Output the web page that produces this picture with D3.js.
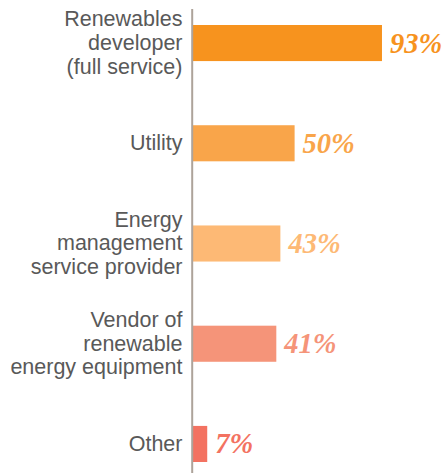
<!DOCTYPE html>
<html>
<head>
<meta charset="utf-8">
<script src="https://cdn.jsdelivr.net/npm/d3@7"></script>
<style>
  html, body { margin: 0; padding: 0; background: #fff; }
  svg { display: block; }
</style>
</head>
<body>
<svg id="chart" width="445" height="473"></svg>
<script>
const categories = [
  ["Renewables", "developer", "(full service)"],
  ["Utility"],
  ["Energy", "management", "service provider"],
  ["Vendor of", "renewable", "energy equipment"],
  ["Other"]
];
const values = [93, 50, 43, 41, 7];
const colors = ["#F7931E", "#F9A54A", "#FDB975", "#F59479", "#F37261"];

const svg = d3.select("#chart");
const keys = categories.map((c, i) => i);

const x = d3.scaleLinear().domain([0, 100]).range([193, 396.2]);
const y = d3.scaleBand().domain(keys).range([25, 462]).paddingInner(0.64).paddingOuter(0);

// bars
svg.selectAll("rect.bar").data(values).join("rect")
  .attr("class", "bar")
  .attr("x", x(0))
  .attr("y", (d, i) => y(i))
  .attr("width", d => x(d) - x(0))
  .attr("height", y.bandwidth())
  .attr("fill", (d, i) => colors[i]);

// axis line
svg.append("line")
  .attr("x1", 192.2).attr("x2", 192.2)
  .attr("y1", 9).attr("y2", 473)
  .attr("stroke", "#ada39a").attr("stroke-width", 2);

// category labels
const lineH = 23.8;
const lab = svg.selectAll("text.cat").data(categories).join("text")
  .attr("class", "cat")
  .attr("text-anchor", "end")
  .attr("font-family", "'Liberation Sans', Arial, sans-serif")
  .attr("font-size", 21.5)
  .attr("fill", "#595959");
lab.each(function(lines, i) {
  const cy = y(i) + y.bandwidth() / 2;
  const n = lines.length;
  d3.select(this).selectAll("tspan").data(lines).join("tspan")
    .attr("x", 182.5)
    .attr("y", (t, j) => cy + 6.8 + (j - (n - 1) / 2) * lineH)
    .text(t => t);
});

// value labels
svg.selectAll("text.val").data(values).join("text")
  .attr("class", "val")
  .attr("x", d => x(d) + 8)
  .attr("y", (d, i) => y(i) + y.bandwidth() / 2 + 9.5)
  .attr("font-family", "'Liberation Serif', 'Times New Roman', serif")
  .attr("font-weight", "bold")
  .attr("font-style", "italic")
  .attr("font-size", 28.5)
  .attr("fill", (d, i) => colors[i])
  .text(d => d + "%");
</script>
</body>
</html>
